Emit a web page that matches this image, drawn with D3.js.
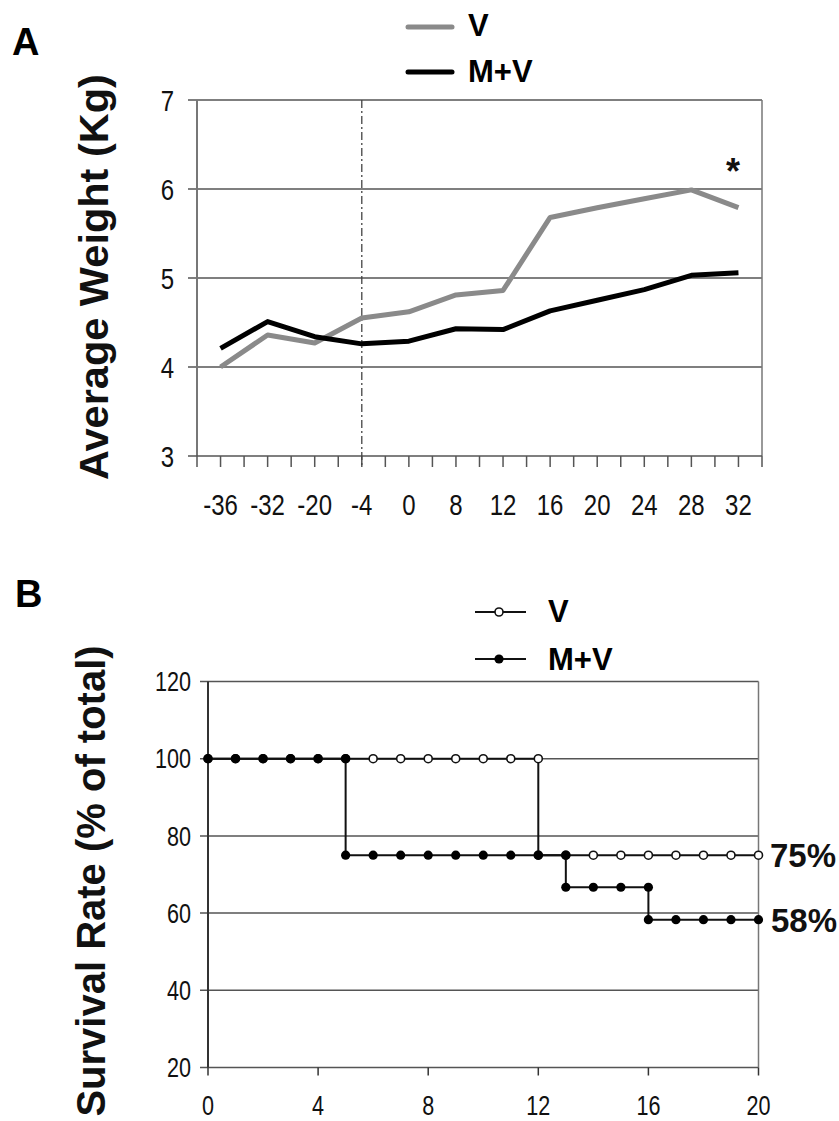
<!DOCTYPE html>
<html><head><meta charset="utf-8">
<script src="https://cdn.jsdelivr.net/npm/d3@7"></script>
<style>
html,body{margin:0;padding:0;background:#fff;}
svg{display:block;}
.narrow{font-family:'Liberation Sans',Arial,sans-serif;}
.bold{font-family:'Liberation Sans',Arial,sans-serif;font-weight:bold;}
</style></head>
<body>
<svg id="chart" width="839" height="1121"></svg>
<script>
// ---------- Panel A data ----------
const weeks = ["-36","-32","-20","-4","0","8","12","16","20","24","28","32"];
const weightV  = [4.00,4.36,4.27,4.55,4.62,4.81,4.86,5.68,5.79,5.89,5.99,5.79];
const weightMV = [4.21,4.51,4.34,4.26,4.29,4.43,4.42,4.63,4.75,4.87,5.03,5.06];
const weightTicks = [3,4,5,6,7];
const interventionWeek = "-4";

// ---------- Panel B data ----------
const survDaysV = [0,1,2,3,4,5,6,7,8,9,10,11,12,12,13,14,15,16,17,18,19,20];
const survV     = [100,100,100,100,100,100,100,100,100,100,100,100,100,75,75,75,75,75,75,75,75,75];
const survDaysMV = [0,1,2,3,4,5,5,6,7,8,9,10,11,12,13,13,14,15,16,16,17,18,19,20];
const survMV     = [100,100,100,100,100,100,75,75,75,75,75,75,75,75,75,66.7,66.7,66.7,66.7,58.3,58.3,58.3,58.3,58.3];
const survTicksY = [20,40,60,80,100,120];
const survTicksX = [0,4,8,12,16,20];
const finalLabels = ["75%","58%"];

const NARROW = 0.8;
const svg = d3.select("#chart");
svg.append("rect").attr("width",839).attr("height",1121).attr("fill","#fff");

// narrow text helper: positions via transform, squeezes horizontally
function narrowText(g, data, xf, yf, anchor, size, dy){
  g.selectAll(null).data(data).join("text").attr("class","narrow")
    .attr("transform", d=>`translate(${xf(d)},${yf(d)}) scale(${NARROW},1)`)
    .attr("dy", dy).attr("text-anchor", anchor)
    .attr("font-size", size).attr("fill","#111").text(d=>d);
}

// =============== Panel A ===============
const A = {l:197, r:762, t:100, b:456};
const xA = d3.scaleBand().domain(weeks).range([A.l, A.r]).padding(0);
const yA = d3.scaleLinear().domain([3,7]).range([A.b, A.t]);
const gA = svg.append("g");

gA.selectAll("line.grid").data(weightTicks.slice(1)).join("line")
  .attr("x1", A.l-9).attr("x2", A.r).attr("y1", d=>yA(d)).attr("y2", d=>yA(d))
  .attr("stroke","#555").attr("stroke-width",1.5);
gA.append("line").attr("x1",A.r).attr("x2",A.r).attr("y1",A.t).attr("y2",A.b)
  .attr("stroke","#777").attr("stroke-width",1.5);
gA.append("line").attr("x1",A.l).attr("x2",A.l).attr("y1",A.t).attr("y2",A.b)
  .attr("stroke","#777").attr("stroke-width",2);
gA.append("line").attr("x1",A.l-9).attr("x2",A.r).attr("y1",A.b).attr("y2",A.b)
  .attr("stroke","#555").attr("stroke-width",1.5);
const xTickPos = [];
weeks.forEach(w => { xTickPos.push(xA(w)); xTickPos.push(xA(w)+xA.bandwidth()/2); });
xTickPos.push(A.r);
gA.selectAll("line.xt").data(xTickPos).join("line")
  .attr("x1",d=>d).attr("x2",d=>d).attr("y1",A.b).attr("y2",A.b+11)
  .attr("stroke","#555").attr("stroke-width",1.5);
narrowText(gA, weightTicks, ()=>174, d=>yA(d), "end", 30, "0.36em");
narrowText(gA, weeks, d=>xA(d)+xA.bandwidth()/2, ()=>515, "middle", 30, 0);
const xi = xA(interventionWeek)+xA.bandwidth()/2;
gA.append("line").attr("x1",xi).attr("x2",xi).attr("y1",A.t).attr("y2",A.b+11)
  .attr("stroke","#444").attr("stroke-width",1.3).attr("stroke-dasharray","8,3,2,3");
const lineA = d3.line().x((d,i)=>xA(weeks[i])+xA.bandwidth()/2).y(d=>yA(d));
gA.append("path").datum(weightV).attr("d",lineA).attr("fill","none")
  .attr("stroke","#8a8a8a").attr("stroke-width",5).attr("stroke-linejoin","round");
gA.append("path").datum(weightMV).attr("d",lineA).attr("fill","none")
  .attr("stroke","#000").attr("stroke-width",5).attr("stroke-linejoin","round");
gA.append("text").attr("class","bold").attr("x",733).attr("y",184).attr("text-anchor","middle")
  .attr("font-size",36).attr("fill","#111").text("*");
gA.append("line").attr("x1",408).attr("x2",452).attr("y1",27).attr("y2",27)
  .attr("stroke","#8a8a8a").attr("stroke-width",5).attr("stroke-linecap","round");
gA.append("text").attr("class","bold").attr("x",468).attr("y",36).attr("font-size",31).text("V");
gA.append("line").attr("x1",408).attr("x2",452).attr("y1",72).attr("y2",72)
  .attr("stroke","#000").attr("stroke-width",5).attr("stroke-linecap","round");
gA.append("text").attr("class","bold").attr("x",468).attr("y",82).attr("font-size",31).text("M+V");
gA.append("text").attr("class","bold").attr("transform","translate(108,277) rotate(-90)")
  .attr("text-anchor","middle").attr("font-size",41.5).attr("fill","#111").text("Average Weight (Kg)");
svg.append("text").attr("class","bold").attr("x",12).attr("y",55).attr("font-size",38).text("A");

// =============== Panel B ===============
const B = {l:208, r:758.5, t:681.5, b:1067.5};
const xB = d3.scaleLinear().domain([0,20]).range([B.l, B.r]);
const yB = d3.scaleLinear().domain([20,120]).range([B.b, B.t]);
const gB = svg.append("g");
gB.selectAll("line.grid").data(survTicksY).join("line")
  .attr("x1",B.l-8).attr("x2",B.r).attr("y1",d=>yB(d)).attr("y2",d=>yB(d))
  .attr("stroke","#555").attr("stroke-width",1.5);
gB.append("line").attr("x1",B.r).attr("x2",B.r).attr("y1",B.t).attr("y2",B.b)
  .attr("stroke","#777").attr("stroke-width",1.5);
gB.append("line").attr("x1",B.l).attr("x2",B.l).attr("y1",B.t).attr("y2",B.b)
  .attr("stroke","#333").attr("stroke-width",2);
gB.selectAll("line.xt").data(survTicksX).join("line")
  .attr("x1",d=>xB(d)).attr("x2",d=>xB(d)).attr("y1",B.b).attr("y2",B.b+8)
  .attr("stroke","#333").attr("stroke-width",1.5);
narrowText(gB, survTicksY, ()=>191, d=>yB(d), "end", 27, "0.36em");
narrowText(gB, survTicksX, d=>xB(d), ()=>1115, "middle", 27, 0);

const lineB = d3.line().x(d=>xB(d[0])).y(d=>yB(d[1]));
const ptsV = survDaysV.map((d,i)=>[d,survV[i]]);
const ptsMV = survDaysMV.map((d,i)=>[d,survMV[i]]);
gB.append("path").datum(ptsV).attr("d",lineB).attr("fill","none").attr("stroke","#111").attr("stroke-width",2);
gB.selectAll("circle.v").data(ptsV).join("circle")
  .attr("cx",d=>xB(d[0])).attr("cy",d=>yB(d[1])).attr("r",4)
  .attr("fill","#fff").attr("stroke","#111").attr("stroke-width",1.6);
gB.append("path").datum(ptsMV).attr("d",lineB).attr("fill","none").attr("stroke","#111").attr("stroke-width",2);
gB.selectAll("circle.mv").data(ptsMV).join("circle")
  .attr("cx",d=>xB(d[0])).attr("cy",d=>yB(d[1])).attr("r",4.6).attr("fill","#000");
gB.append("text").attr("class","bold").attr("x",770).attr("y",yB(survV[survV.length-1])+12)
  .attr("font-size",33).attr("fill","#111").text(finalLabels[0]);
gB.append("text").attr("class","bold").attr("x",771).attr("y",yB(survMV[survMV.length-1])+12)
  .attr("font-size",33).attr("fill","#111").text(finalLabels[1]);
gB.append("line").attr("x1",475).attr("x2",526).attr("y1",612).attr("y2",612).attr("stroke","#111").attr("stroke-width",2);
gB.append("circle").attr("cx",499).attr("cy",612).attr("r",4).attr("fill","#fff").attr("stroke","#111").attr("stroke-width",1.6);
gB.append("text").attr("class","bold").attr("x",548).attr("y",622).attr("font-size",31).text("V");
gB.append("line").attr("x1",475).attr("x2",526).attr("y1",659).attr("y2",659).attr("stroke","#111").attr("stroke-width",2);
gB.append("circle").attr("cx",499).attr("cy",659).attr("r",4.6).attr("fill","#000");
gB.append("text").attr("class","bold").attr("x",548).attr("y",670).attr("font-size",31).text("M+V");
gB.append("text").attr("class","bold").attr("transform","translate(105,881) rotate(-90)")
  .attr("text-anchor","middle").attr("font-size",40).attr("fill","#111").text("Survival Rate (% of total)");
svg.append("text").attr("class","bold").attr("x",15).attr("y",607).attr("font-size",38).text("B");
</script>
</body></html>
